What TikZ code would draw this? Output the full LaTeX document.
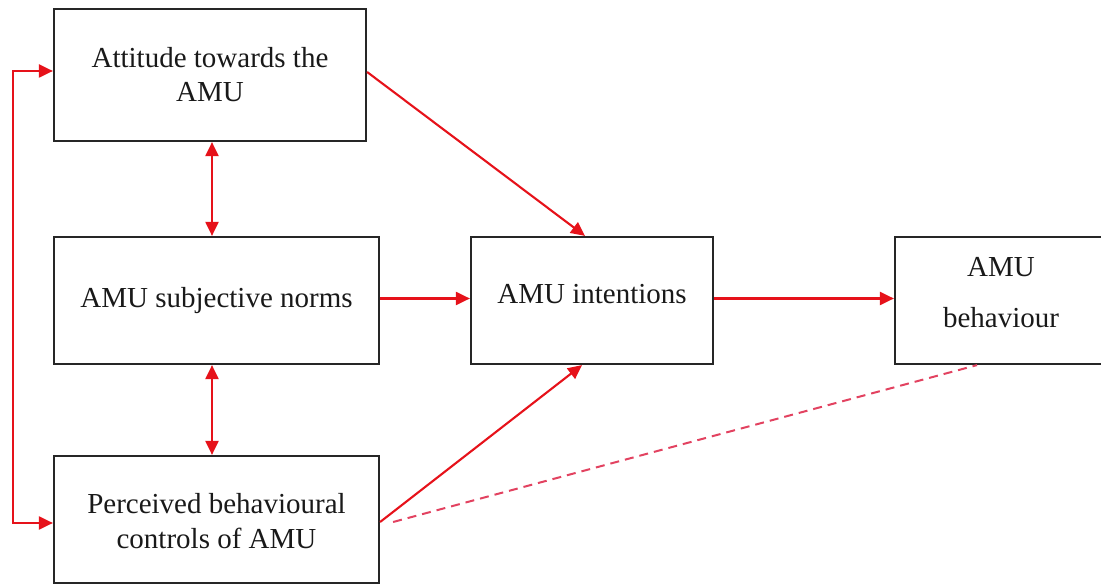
\documentclass[tikz,border=0pt]{standalone}
\usepackage{fontspec}
\setmainfont{Liberation Serif}
\usetikzlibrary{arrows.meta}
\definecolor{linkred}{RGB}{230,18,26}
\definecolor{dashred}{RGB}{226,66,96}
\definecolor{boxline}{RGB}{38,38,38}
\definecolor{ink}{RGB}{25,25,25}
\begin{document}
\begin{tikzpicture}[x=1pt,y=-1pt,
  box/.style={draw=boxline,line width=2.2pt,rectangle,inner sep=0pt,
    align=center,text=ink,font=\fontsize{29}{34}\selectfont},
  link/.style={draw=linkred,line width=2.1pt,-{Triangle[length=14pt,width=13pt]}},
  twoway/.style={draw=linkred,line width=2.1pt,
    {Triangle[length=14pt,width=13pt]}-{Triangle[length=14pt,width=13pt]}},
  weak/.style={draw=dashred,line width=2pt,dash pattern=on 9pt off 6pt}]
\useasboundingbox (0,0) rectangle (1101,585);

% the five constructs
\node[box,minimum width=312pt,minimum height=132pt] (att) at (210,75)
  {Attitude towards the\\AMU};
\node[box,minimum width=325pt,minimum height=127pt] (norms) at (216.5,300.5)
  {AMU subjective norms};
\node[box,minimum width=325pt,minimum height=127pt] (perc) at (216.5,519.5)
  {\raisebox{-5pt}[\height][\depth]{\begin{tabular}{@{}c@{}}Perceived behavioural\\[1pt]controls of AMU\end{tabular}}};
\node[box,minimum width=242pt,minimum height=127pt,text depth=14pt] (intent) at (592,300.5)
  {AMU intentions};
\node[box,minimum width=212pt,minimum height=127pt,text depth=16pt] (behav) at (1001,300.5)
  {AMU\\[17pt]behaviour};

% correlations among the antecedents
\draw[twoway] ([xshift=2pt]att.south) -- ([xshift=2pt]att.south |- norms.north);
\draw[twoway] ([xshift=-4.5pt]norms.south) -- ([xshift=-4.5pt]norms.south |- perc.north);
\draw[twoway] ([yshift=-3.5pt]perc.west) -- ++(-40,0) |- ([yshift=4pt]att.west);

% paths to intentions and behaviour
\draw[link] ([yshift=3pt]att.east) -- ([xshift=-7pt]intent.north);
\draw[link] ([yshift=2pt]norms.east) -- ([yshift=2pt]intent.west);
\draw[link] ([yshift=2pt]intent.east) -- ([yshift=2pt]behav.west);
\draw[link] ([yshift=-2.5pt]perc.east) -- ([xshift=-10pt]intent.south);
\draw[weak] ([xshift=13pt,yshift=-2.5pt]perc.east) -- ([xshift=-24pt]behav.south);
\end{tikzpicture}
\end{document}
